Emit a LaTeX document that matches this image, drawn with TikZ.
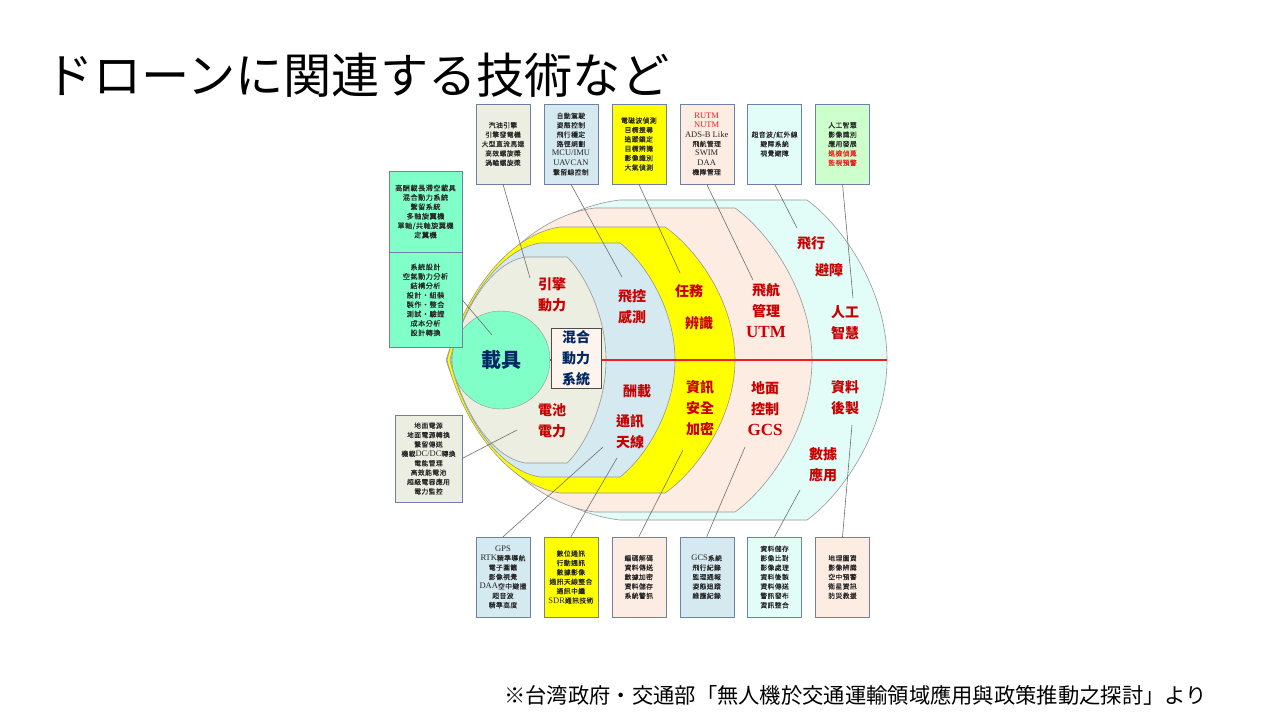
\documentclass[tikz,border=0pt]{standalone}
\usepackage{fontspec}
\setmainfont{Liberation Serif}
\newfontfamily\cjk{Noto Sans CJK TC}
\newfontfamily\cjkbox[FakeBold=0.15,LetterSpace=6]{Noto Sans CJK TC}
\newfontfamily\jpfont{Noto Sans CJK JP}
\usepackage{tikz}
\usetikzlibrary{positioning}

\definecolor{layBeige}{RGB}{235,238,224}
\definecolor{layBlue}{RGB}{212,233,240}
\definecolor{layYellow}{RGB}{255,255,0}
\definecolor{layPeach}{RGB}{253,236,226}
\definecolor{layCyan}{RGB}{226,252,248}
\definecolor{layGreen}{RGB}{204,255,204}
\definecolor{layAqua}{RGB}{128,255,200}
\definecolor{boxline}{RGB}{110,128,168}
\definecolor{layerline}{RGB}{150,150,150}
\definecolor{leadline}{RGB}{110,110,110}
\definecolor{labred}{RGB}{200,0,0}
\definecolor{txtred}{RGB}{240,30,30}
\definecolor{navy}{RGB}{0,40,100}
\newcommand\ltn[1]{{\rmfamily\fontsize{8.5}{9.4}\selectfont #1}}
\newcommand\ltb[1]{{\rmfamily\fontsize{17}{21}\selectfont #1}}

\begin{document}
\begin{tikzpicture}[x=1pt, y=-1pt,
  tbox/.style={draw=boxline, align=center, minimum width=54pt, minimum height=80pt, inner sep=1pt, text=black!85, font=\cjkbox\fontsize{6.8}{9.4}\selectfont},
  lbox/.style={tbox, fill=layAqua, minimum width=73pt, font=\cjkbox\fontsize{7.2}{9.4}\selectfont},
  lbl/.style={align=center, inner sep=0pt, text=labred, font=\cjk\bfseries\fontsize{14}{21}\selectfont},
  layer/.style={draw=layerline, line width=0.6pt},
  lead/.style={draw=leadline, line width=0.6pt}
]
\useasboundingbox (0,0) rectangle (1280,720);
\fill[white] (0,0) rectangle (1280,720);

% title and source
\node[anchor=west, inner sep=0pt, font=\jpfont\fontsize{48.2}{50}\selectfont] (title) at (45,75) {ドローンに関連する技術など};
\node[anchor=east, inner sep=0pt, font=\jpfont\fontsize{21.3}{24}\selectfont] (src) at (1207,695) {※台湾政府・交通部「無人機於交通運輸領域應用與政策推動之探討」より};

% nested layers
\filldraw[layer, fill=layCyan] (446,360) .. controls (468.6,288) and (536.5,209.6) .. (620,200) -- (807,200) .. controls (842.2,225.6) and (887,289.6) .. (887,360) .. controls (887,430.4) and (842.2,494.4) .. (807,520) -- (620,520) .. controls (536.5,510.4) and (468.6,432) .. cycle;
\filldraw[layer, fill=layPeach] (447,360) .. controls (466.2,291.6) and (524,217.1) .. (595,208) -- (735,208) .. controls (768.9,232.3) and (812,293) .. (812,360) .. controls (812,427) and (768.9,487.7) .. (735,512) -- (595,512) .. controls (524,502.9) and (466.2,428.4) .. cycle;
\filldraw[layer, fill=layYellow] (447,360) .. controls (461.7,300.2) and (505.8,235) .. (560,227) -- (665,227) .. controls (695.8,248.3) and (735,301.5) .. (735,360) .. controls (735,418.5) and (695.8,471.7) .. (665,493) -- (560,493) .. controls (505.8,485) and (461.7,419.8) .. cycle;
\filldraw[layer, fill=layBlue] (450,360) .. controls (461.7,307.4) and (496.8,250) .. (540,243) -- (620,243) .. controls (644.2,261.7) and (675,308.5) .. (675,360) .. controls (675,411.5) and (644.2,458.3) .. (620,477) -- (540,477) .. controls (496.8,470) and (461.7,412.6) .. cycle;
\filldraw[layer, fill=layBeige] (451,360) .. controls (460.6,313.7) and (489.5,263.2) .. (525,257) -- (567,257) .. controls (584.2,273.5) and (606,314.7) .. (606,360) .. controls (606,405.3) and (584.2,446.5) .. (567,463) -- (525,463) .. controls (489.5,456.8) and (460.6,406.3) .. cycle;

% core
\node[circle, draw=layerline, fill=layAqua, minimum size=98pt, inner sep=0pt, text=navy, font=\cjk\bfseries\fontsize{20}{24}\selectfont] (core) at (501,360) {載具};
\coordinate (axisend) at (887,360);
\draw[txtred, line width=2.5pt] (core.east) -- (axisend);
\node[draw=black!70, fill=layPeach!60, minimum width=50pt, minimum height=60pt, inner sep=0pt, align=center, text=navy, font=\cjk\bfseries\fontsize{14}{21}\selectfont] (hybrid) at (576,358) {混合\\動力\\系統};

% layer labels
\node[lbl] (engl) at (552,295) {引擎\\動力};
\node[lbl] (batl) at (552,421) {電池\\電力};
\node[lbl] (fctll) at (632,307) {飛控\\感測};
\node[lbl] (payl) at (637,391) {酬載};
\node[lbl] (antl) at (630,432) {通訊\\天線};
\node[lbl] (misl) at (689,291) {任務};
\node[lbl] (recl) at (699,323) {辨識};
\node[lbl] (secl) at (700,408) {資訊\\安全\\加密};
\node[lbl] (utml) at (766,311) {飛航\\管理\\\ltb{UTM}};
\node[lbl] (gcsl) at (765,409) {地面\\控制\\\ltb{GCS}};
\node[lbl] (flyl) at (811,243) {飛行};
\node[lbl] (avol) at (829,270) {避障};
\node[lbl] (ail) at (845,323) {人工\\智慧};
\node[lbl] (postl) at (845,398) {資料\\後製};
\node[lbl] (appl) at (823,465) {數據\\應用};

% top row
\node[tbox, fill=layBeige] (engine) at (503,144) {汽油引擎\\引擎發電機\\大型直流馬達\\高效螺旋槳\\渦輪螺旋槳};
\node[tbox, fill=layBlue, right=13.5pt of engine] (fctl) {自動駕駛\\姿態控制\\飛行穩定\\路徑規劃\\\ltn{MCU/IMU}\\\ltn{UAVCAN}\\繫留線控制};
\node[tbox, fill=layYellow, right=13.5pt of fctl] (mission) {電磁波偵測\\目標搜尋\\追蹤鎖定\\目標辨識\\影像識別\\大氣偵測};
\node[tbox, fill=layPeach, right=13.5pt of mission] (utm) {\textcolor{txtred}{\ltn{RUTM}}\\\textcolor{txtred}{\ltn{NUTM}}\\\ltn{ADS-B Like}\\飛航管理\\\ltn{SWIM}\\\ltn{DAA}\\機隊管理};
\node[tbox, fill=layCyan, right=13.5pt of utm] (avoid) {超音波/紅外線\\避障系統\\視覺避障};
\node[tbox, fill=layGreen, right=13.5pt of avoid] (ai) {人工智慧\\影像識別\\應用發展\\\textcolor{txtred}{巡檢偵蒐}\\\textcolor{txtred}{監視預警}};

% bottom row
\node[tbox, fill=layBlue] (nav) at (503,577) {\ltn{GPS}\\\ltn{RTK}精準導航\\電子圍籬\\影像視覺\\\ltn{DAA}空中避撞\\超音波\\精準高度};
\node[tbox, fill=layYellow, right=13.5pt of nav] (comm) {數位通訊\\行動通訊\\數據影像\\通訊天線整合\\通訊中繼\\\ltn{SDR}通訊技術};
\node[tbox, fill=layPeach, right=13.5pt of comm] (sec) {編碼解碼\\資料傳送\\數據加密\\資料儲存\\系統警訊};
\node[tbox, fill=layBlue, right=13.5pt of sec] (gcs) {\ltn{GCS}系統\\飛行紀錄\\監理通報\\姿態追蹤\\維護紀錄};
\node[tbox, fill=layCyan, right=13.5pt of gcs] (data) {資料儲存\\影像比對\\影像處理\\資料後製\\資料傳送\\警訊發布\\資訊整合};
\node[tbox, fill=layPeach, right=13.5pt of data] (geo) {地理圖資\\影像辨識\\空中預警\\衛星資訊\\防災救援};

% left column
\node[lbox, minimum height=81pt] (veh) at (425.5,211.5) {高酬載長滯空載具\\混合動力系統\\繫留系統\\多軸旋翼機\\單軸/共軸旋翼機\\定翼機};
\node[lbox, minimum height=95pt, below=0pt of veh] (design) {系統設計\\空氣動力分析\\結構分析\\設計・組裝\\製作・整合\\測試・驗證\\成本分析\\設計轉換};
\node[tbox, fill=layBeige, minimum width=67pt, minimum height=87pt] (power) at (428.5,458.5) {地面電源\\地面電源轉換\\繫留傳送\\機載\ltn{DC/DC}轉換\\電能管理\\高效能電池\\超級電容應用\\電力監控};

% leader lines
\coordinate (c1) at (530,278);
\coordinate (c2) at (622,277);
\coordinate (c3) at (680,273);
\coordinate (c4) at (753,280);
\coordinate (c5) at (797,228);
\coordinate (c6) at (853,298);
\coordinate (d1) at (603,447);
\coordinate (d2) at (617,458);
\coordinate (d3) at (683,450);
\coordinate (d4) at (745,447);
\coordinate (d5) at (800,490);
\coordinate (d6) at (852,425);
\coordinate (e1) at (492,335);
\coordinate (e2) at (517,430);
\draw[lead] (engine.south) -- (c1);
\draw[lead] (fctl.south) -- (c2);
\draw[lead] (mission.south) -- (c3);
\draw[lead] (utm.south) -- (c4);
\draw[lead] (avoid.south) -- (c5);
\draw[lead] (ai.south) -- (c6);
\draw[lead] (nav.north) -- (d1);
\draw[lead] (comm.north) -- (d2);
\draw[lead] (sec.north) -- (d3);
\draw[lead] (gcs.north) -- (d4);
\draw[lead] (data.north) -- (d5);
\draw[lead] (geo.north) -- (d6);
\draw[lead] (design.east) -- (e1);
\draw[lead] (power.east) -- (e2);
\end{tikzpicture}
\end{document}
